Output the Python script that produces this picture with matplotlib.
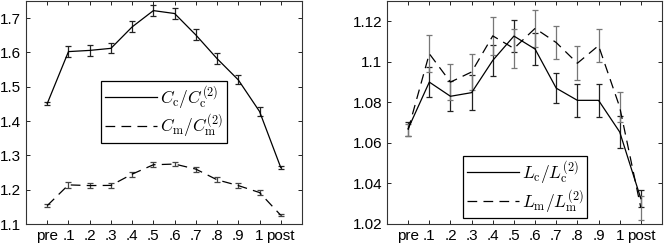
import matplotlib
matplotlib.use('Agg')
import matplotlib.pyplot as plt
import numpy as np

plt.rcParams['font.family'] = ['Liberation Sans', 'DejaVu Sans']
plt.rcParams['mathtext.fontset'] = 'cm'
plt.rcParams['lines.scale_dashes'] = False

# x categories
labels = ['pre', '.1', '.2', '.3', '.4', '.5', '.6', '.7', '.8', '.9', '1', 'post']

# left panel: C ratios
cc = [1.451, 1.6025, 1.606, 1.612, 1.6745, 1.722, 1.7135, 1.651, 1.582, 1.520, 1.428, 1.2645]
cc_err = [0.004, 0.015, 0.015, 0.015, 0.016, 0.017, 0.016, 0.016, 0.015, 0.013, 0.012, 0.004]
cm = [1.1536, 1.214, 1.212, 1.2125, 1.2454, 1.2727, 1.2747, 1.260, 1.2288, 1.212, 1.1917, 1.1254]
cm_err = [0.004, 0.008, 0.007, 0.007, 0.007, 0.007, 0.007, 0.007, 0.007, 0.007, 0.007, 0.003]

# right panel: L ratios
lc = [1.067, 1.090, 1.083, 1.0848, 1.1007, 1.1127, 1.1063, 1.087, 1.081, 1.081, 1.0654, 1.0325]
lc_err = [0.0035, 0.0075, 0.0075, 0.0085, 0.0075, 0.0078, 0.008, 0.0075, 0.008, 0.0082, 0.0077, 0.0042]
lm = [1.0665, 1.104, 1.090, 1.095, 1.1128, 1.1066, 1.1165, 1.1095, 1.0993, 1.108, 1.0777, 1.028]
lm_err = [0.003, 0.009, 0.009, 0.009, 0.0093, 0.0097, 0.009, 0.008, 0.0085, 0.0083, 0.0072, 0.0058]

x = np.arange(len(labels))
W, H = 664, 248
fig = plt.figure(figsize=(W / 100, H / 100), dpi=100)
ax1 = fig.add_axes([26 / W, 24 / H, 276 / W, 223 / H])
ax2 = fig.add_axes([387 / W, 24 / H, 275 / W, 223 / H])

dash = (0, (7, 4.5))


def draw(ax, y1, e1, y2, e2, ecol2, lab1, lab2):
    ax.errorbar(x, y1, yerr=e1, fmt='none', ecolor='#222222', elinewidth=0.9,
                capsize=2.4, capthick=0.9)
    ax.errorbar(x, y2, yerr=e2, fmt='none', ecolor=ecol2, elinewidth=0.9,
                capsize=2.4, capthick=0.9)
    ax.plot(x, y1, color='black', lw=0.9, label=lab1)
    ax.plot(x, y2, color='black', lw=0.9, linestyle=dash, label=lab2)
    ax.set_xlim(-1, 12)
    ax.set_xticks(x)
    ax.set_xticklabels(labels)
    ax.tick_params(direction='in', top=True, right=True, length=3,
                   width=0.6, labelsize=11, pad=3.5)
    for s in ax.spines.values():
        s.set_linewidth(0.8)
        s.set_color('#333333')


def add_legend(ax, anchor):
    leg = ax.legend(loc='center', bbox_to_anchor=anchor, fontsize=12.5,
                    fancybox=False, edgecolor='black', framealpha=1,
                    handlelength=3.0, borderpad=0.2, labelspacing=0.1,
                    handletextpad=0.2, borderaxespad=0)
    leg.get_frame().set_linewidth(0.9)


draw(ax1, cc, cc_err, cm, cm_err, '#444444',
     r'$C_\mathrm{c}/C_\mathrm{c}^{(2)}$', r'$C_\mathrm{m}/C_\mathrm{m}^{(2)}$')
ax1.set_ylim(1.1, 1.75)
ax1.set_yticks([1.1, 1.2, 1.3, 1.4, 1.5, 1.6, 1.7])
ax1.set_yticklabels(['1.1', '1.2', '1.3', '1.4', '1.5', '1.6', '1.7'])
add_legend(ax1, (0.5, 0.503))

draw(ax2, lc, lc_err, lm, lm_err, '#777777',
     r'$L_\mathrm{c}/L_\mathrm{c}^{(2)}$', r'$L_\mathrm{m}/L_\mathrm{m}^{(2)}$')
ax2.set_ylim(1.02, 1.13)
ax2.set_yticks([1.02, 1.04, 1.06, 1.08, 1.1, 1.12])
ax2.set_yticklabels(['1.02', '1.04', '1.06', '1.08', '1.1', '1.12'])
add_legend(ax2, (0.503, 0.166))

fig.savefig('out.png', dpi=100)
